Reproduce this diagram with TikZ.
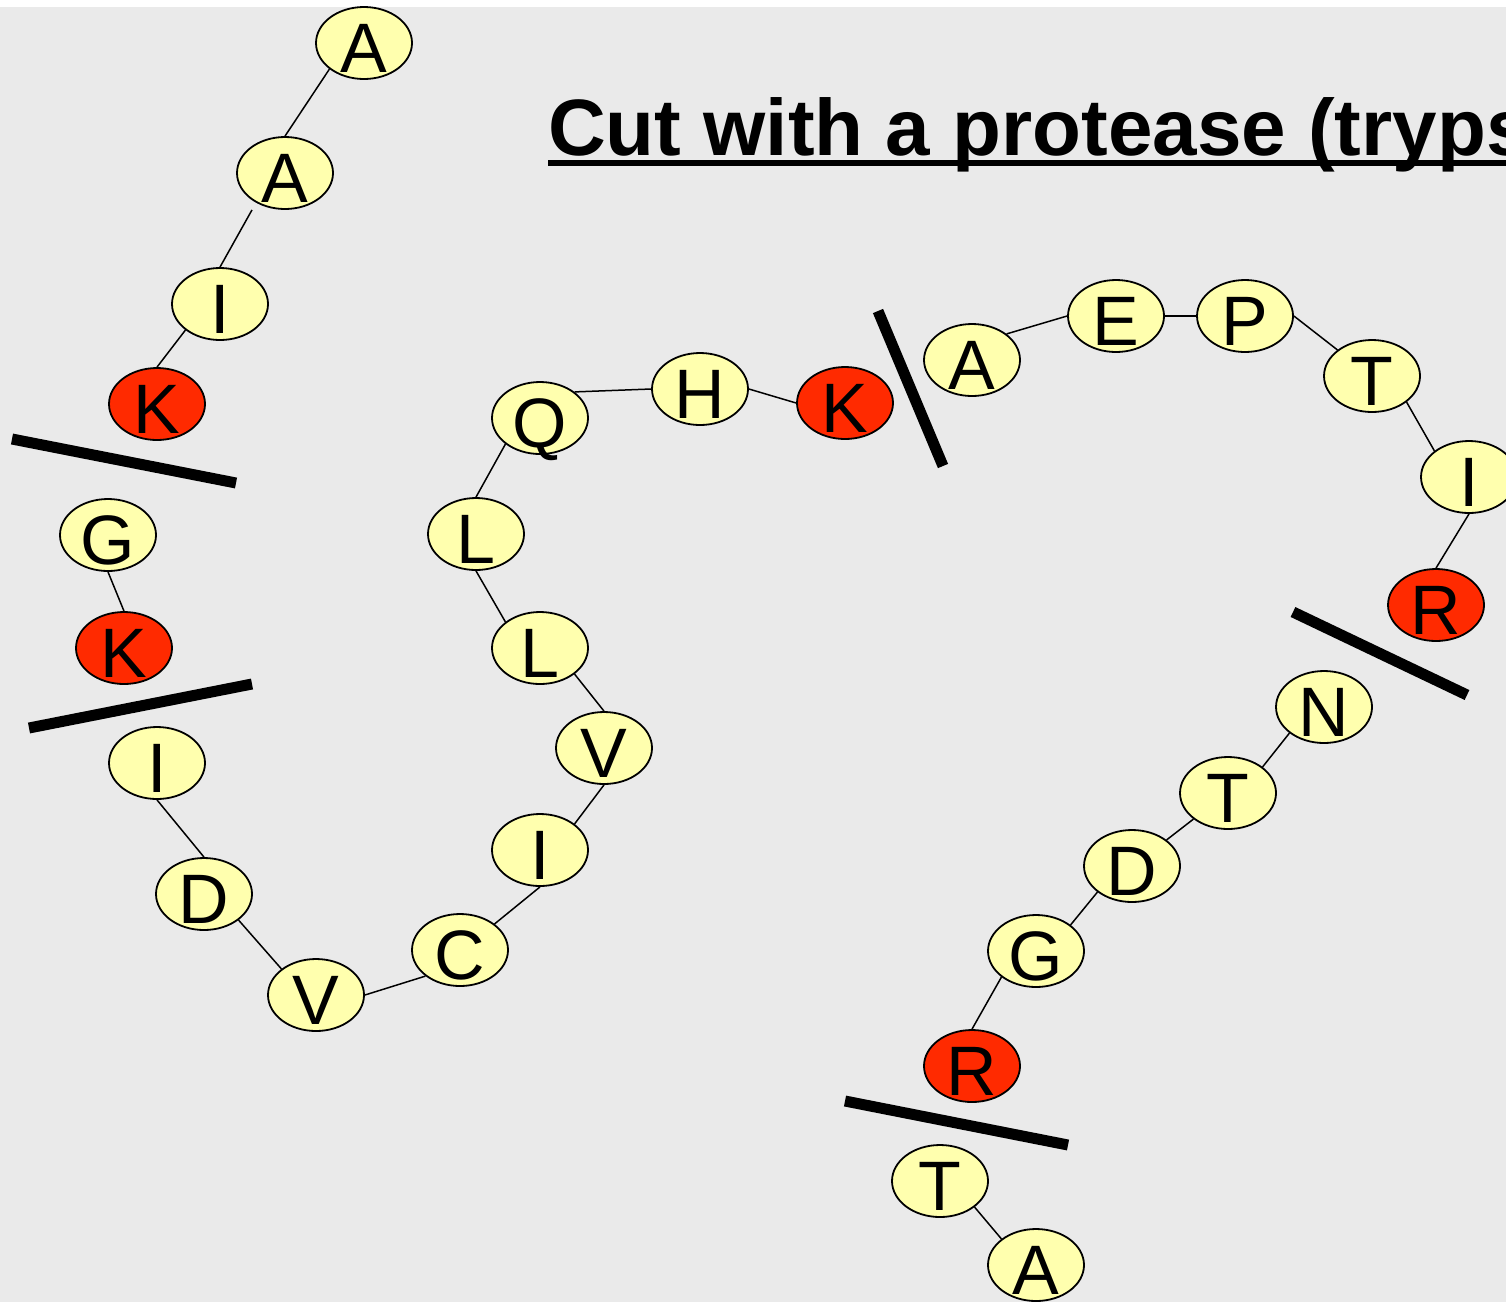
\documentclass[tikz,border=0pt]{standalone}
\usepackage{fontspec}
\setmainfont{Liberation Sans}
\usetikzlibrary{shapes.geometric}
\definecolor{bggray}{HTML}{EAEAEA}
\definecolor{resyellow}{HTML}{FFFFAE}
\definecolor{resred}{HTML}{FF2A00}
\newcommand\resl[1]{\raisebox{-29pt}[0pt][0pt]{#1}}
\tikzset{
  res/.style={ellipse, draw=black, line width=1.8pt, fill=resyellow, minimum width=96pt, minimum height=72pt, inner sep=0pt, font=\fontsize{70pt}{70pt}\selectfont},
  cut/.style={res, fill=resred},
  bond/.style={line width=1.5pt, black},
  cutline/.style={line width=11pt, black}
}
\begin{document}
\begin{tikzpicture}[x=1pt, y=-1pt]
\useasboundingbox (0,0) rectangle (1506,1302);
\clip (0,0) rectangle (1506,1302);
\fill[white] (0,0) rectangle (1506,1302);
\fill[bggray] (0,7) rectangle (1506,1302);
% title
\node[anchor=base west, inner sep=0pt, font=\fontsize{80pt}{80pt}\selectfont\bfseries] (title) at (548,155) {Cut with a protease (trypsin)};
\fill[black] (548,160) rectangle (1506,166);
% residues
\node[res] (a1) at (364,43) {\resl{A}};
\node[res] (a2) at (285,173) {\resl{A}};
\node[res] (i1) at (220,304) {\resl{I}};
\node[cut] (k1) at (157,404) {\resl{K}};
\node[res] (g1) at (108,535) {\resl{G}};
\node[cut] (k2) at (124,648) {\resl{K}};
\node[res] (i2) at (157,763) {\resl{I}};
\node[res] (d1) at (204,894) {\resl{D}};
\node[res] (v1) at (316,995) {\resl{V}};
\node[res] (c1) at (460,950) {\resl{C}};
\node[res] (i3) at (540,850) {\resl{I}};
\node[res] (v2) at (604,748) {\resl{V}};
\node[res] (l1) at (540,648) {\resl{L}};
\node[res] (l2) at (476,534) {\resl{L}};
\node[res] (q1) at (540,418) {\resl{Q}};
\node[res] (h1) at (700,389) {\resl{H}};
\node[cut] (k3) at (845,403) {\resl{K}};
\node[res] (a3) at (972,360) {\resl{A}};
\node[res] (e1) at (1116,316) {\resl{E}};
\node[res] (p1) at (1245,316) {\resl{P}};
\node[res] (t1) at (1372,376) {\resl{T}};
\node[res] (i4) at (1469,477) {\resl{I}};
\node[cut] (r1) at (1436,605) {\resl{R}};
\node[res] (n1) at (1324,707) {\resl{N}};
\node[res] (t2) at (1228,793) {\resl{T}};
\node[res] (d2) at (1132,866) {\resl{D}};
\node[res] (g2) at (1036,951) {\resl{G}};
\node[cut] (r2) at (972,1066) {\resl{R}};
\node[res] (t3) at (940,1181) {\resl{T}};
\node[res] (a4) at (1036,1265) {\resl{A}};
% bonds
\draw[bond] (a1.south west) -- (a2.north);
\draw[bond] ([xshift=-33pt]a2.south) -- (i1.north);
\draw[bond] (i1.south west) -- (k1.north);
\draw[bond] (g1.south) -- (k2.north);
\draw[bond] (i2.south) -- (d1.north);
\draw[bond] (d1.south east) -- (v1.north west);
\draw[bond] (v1.east) -- (c1.south west);
\draw[bond] (c1.north east) -- (i3.south);
\draw[bond] (i3.north east) -- (v2.south);
\draw[bond] (v2.north) -- (l1.south east);
\draw[bond] (l1.north west) -- (l2.south);
\draw[bond] (l2.north) -- (q1.south west);
\draw[bond] (q1.north east) -- (h1.west);
\draw[bond] (h1.east) -- (k3.west);
\draw[bond] (a3.north east) -- (e1.west);
\draw[bond] (e1.east) -- (p1.west);
\draw[bond] (p1.east) -- (t1.north west);
\draw[bond] (t1.south east) -- (i4.north west);
\draw[bond] (i4.south) -- (r1.north);
\draw[bond] (n1.south west) -- (t2.north east);
\draw[bond] (t2.south west) -- (d2.north east);
\draw[bond] (d2.south west) -- (g2.north east);
\draw[bond] (g2.south west) -- (r2.north);
\draw[bond] (t3.south east) -- (a4.north west);
% cut marks
\coordinate (c1a) at (12,439); \coordinate (c1b) at (236,483);
\coordinate (c2a) at (29,728); \coordinate (c2b) at (252,684);
\coordinate (c3a) at (878,311); \coordinate (c3b) at (943,466);
\coordinate (c4a) at (1293,612); \coordinate (c4b) at (1467,695);
\coordinate (c5a) at (845,1101); \coordinate (c5b) at (1068,1145);
\draw[cutline] (c1a) -- (c1b);
\draw[cutline] (c2a) -- (c2b);
\draw[cutline] (c3a) -- (c3b);
\draw[cutline] (c4a) -- (c4b);
\draw[cutline] (c5a) -- (c5b);
\end{tikzpicture}
\end{document}
